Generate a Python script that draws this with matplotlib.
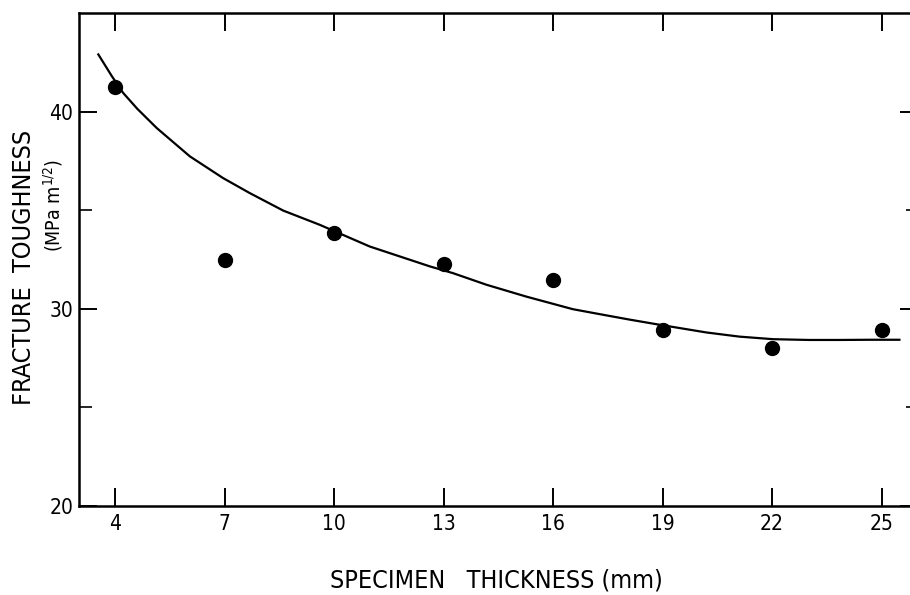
import numpy as np
import matplotlib
matplotlib.use("Agg")
from matplotlib import pyplot as plt

plt.rcParams["font.family"] = ["DejaVu Sans"]
plt.rcParams["font.stretch"] = "condensed"

# measured points
thickness = [4, 7, 10, 13, 16, 19, 22, 25]
toughness = [41.25, 32.5, 33.85, 32.27, 31.45, 28.95, 28.0, 28.9]

# hand-drawn trend curve
curve_x = [3.53, 3.9, 4.21, 4.6, 5.13, 6.04, 6.95, 7.68, 8.6, 9.6, 10.97,
           12.62, 13.25, 14.17, 15.26, 16.54, 17.36, 18.1, 18.92, 20.2, 21.1,
           22.02, 23.0, 23.85, 24.7, 25.49]
curve_y = [42.9, 41.8, 40.95, 40.14, 39.17, 37.73, 36.63, 35.87, 34.98, 34.26,
           33.16, 32.15, 31.81, 31.22, 30.62, 29.98, 29.70, 29.45, 29.19, 28.80,
           28.59, 28.46, 28.42, 28.42, 28.43, 28.43]

x_ticks = [4, 7, 10, 13, 16, 19, 22, 25]
y_ticks = [20, 30, 40]
y_minor = [25, 35]

fig = plt.figure(figsize=(9.1, 5.95), dpi=100)
ax = fig.add_axes([0.0868, 0.1496, 0.9220, 0.8285])

ax.plot(curve_x, curve_y, color="black", lw=1.6)
ax.plot(thickness, toughness, "o", color="black", ms=10)

ax.set_xlim(3, 26)
ax.set_ylim(20, 45)
ax.set_xticks(x_ticks)
ax.set_yticks(y_ticks)
ax.set_yticks(y_minor, minor=True)
ax.tick_params(axis="both", which="major", direction="in", length=13, width=1.4,
               labelsize=15, top=True, right=True, pad=6)
ax.tick_params(axis="y", which="minor", direction="in", length=9, width=1.2,
               right=True)
ax.tick_params(axis="y", which="major", pad=4)
for s in ax.spines.values():
    s.set_linewidth(1.8)

fig.text(0.026, 0.55, "FRACTURE  TOUGHNESS", rotation=90, ha="center",
         va="center", fontsize=18)
fig.text(0.058, 0.655, r"(MPa m$^{1/2}$)", rotation=90, ha="center",
         va="center", fontsize=14)
fig.text(0.546, 0.025, "SPECIMEN   THICKNESS (mm)", ha="center", va="center",
         fontsize=18)

fig.savefig("out.png", dpi=100)
